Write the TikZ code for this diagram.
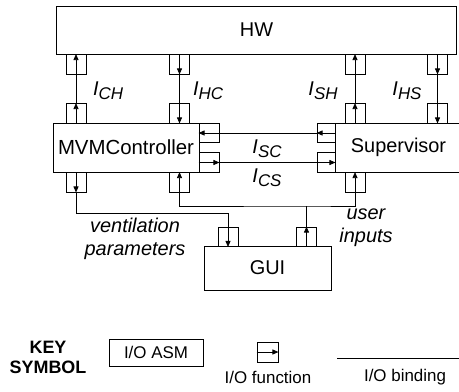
\documentclass[tikz,border=0pt]{standalone}
\usepackage{fontspec}
\setmainfont{Liberation Sans}
\usetikzlibrary{arrows.meta}
\newcommand\ilbl[1]{\textit{I}\raisebox{-4bp}{\fontsize{17}{17}\selectfont\itshape #1}}
\begin{document}
\begin{tikzpicture}[x=1bp,y=-1bp,line width=0.8bp,
  big/.style={font=\fontsize{20}{23}\selectfont},
  asm/.style={draw,line width=1bp,inner sep=0pt,big},
  port/.style={draw,line width=0.9bp,inner sep=0pt,minimum width=20bp,minimum height=19.5bp},
  flow/.style={-{Triangle[length=6bp,width=5bp]}},
  lbl/.style={big,inner sep=0pt},
  keytxt/.style={font=\fontsize{17}{20}\selectfont,inner sep=0pt}]
\useasboundingbox (0,0) rectangle (459,391);
% main boxes
\node[asm,minimum width=399bp,minimum height=48bp] (HW) at (256.5,30) {HW};
\node[asm,minimum width=146bp,minimum height=49bp,text width=146bp,align=center] (MVM) at (126,147.5) {\resizebox{136bp}{!}{MVMController}};
\node[asm,minimum width=127bp,minimum height=49bp] (SUP) at (398.5,147.5) {Supervisor};
\node[asm,minimum width=127bp,minimum height=44bp] (GUI) at (267.5,268) {GUI};
% ports
\node[port] (h1) at (76,64.25) {};
\node[port] (h2) at (179.5,64.25) {};
\node[port] (h3) at (355,64.25) {};
\node[port] (h4) at (437.5,64.25) {};
\node[port] (mt1) at (76,113.25) {};
\node[port] (mt2) at (179.5,113.25) {};
\node[port] (st1) at (355,113.25) {};
\node[port] (st2) at (437.5,113.25) {};
\node[port] (mr1) at (209,133) {};
\node[port] (mr2) at (209,162.5) {};
\node[port,minimum width=18bp] (sl1) at (326,133) {};
\node[port,minimum width=18bp] (sl2) at (326,162.5) {};
\node[port] (mb1) at (76,182.25) {};
\node[port] (mb2) at (179.5,182.25) {};
\node[port] (sb1) at (355,182.25) {};
\node[port] (g1) at (228,236.75) {};
\node[port] (g2) at (306.5,236.75) {};
% port arrows
\draw[flow] (h1.south) -- (h1.north);
\draw[flow] (h2.north) -- (h2.south);
\draw[flow] (h3.south) -- (h3.north);
\draw[flow] (h4.north) -- (h4.south);
\draw[flow] (mt1.south) -- (mt1.north);
\draw[flow] (mt2.north) -- (mt2.south);
\draw[flow] (st1.south) -- (st1.north);
\draw[flow] (st2.north) -- (st2.south);
\draw[flow] (mr1.east) -- (mr1.west);
\draw[flow] (mr2.west) -- (mr2.east);
\draw[flow] (sl1.east) -- (sl1.west);
\draw[flow] (sl2.west) -- (sl2.east);
\draw[flow] (mb1.north) -- (mb1.south);
\draw[flow] (mb2.south) -- (mb2.north);
\draw[flow] (sb1.south) -- (sb1.north);
\draw[flow] (g1.north) -- (g1.south);
\draw[flow] (g2.south) -- (g2.north);
% bindings
\draw (mt1.north) -- (h1.south);
\draw (h2.south) -- (mt2.north);
\draw (st1.north) -- (h3.south);
\draw (h4.south) -- (st2.north);
\draw (sl1.west) -- (mr1.east);
\draw (mr2.east) -- (sl2.west);
\coordinate (vb) at (228,213);
\coordinate (uj) at (306.5,206);
\draw (mb1.south) |- (vb) -- (g1.north);
\draw (g2.north) -- (uj);
\draw (mb2.south) |- (uj) -| (sb1.south);
% labels
\node[lbl] (lch) at (108,91) {\ilbl{CH}};
\node[lbl] (lhc) at (208,91) {\ilbl{HC}};
\node[lbl] (lsh) at (323,91) {\ilbl{SH}};
\node[lbl] (lhs) at (407,91) {\ilbl{HS}};
\node[lbl] (lsc) at (267,149) {\ilbl{SC}};
\node[lbl] (lcs) at (267,178) {\ilbl{CS}};
\node[lbl,align=center,font=\fontsize{20}{23}\selectfont\itshape] (vp) at (135,239) {ventilation\\parameters};
\node[lbl,align=center,font=\fontsize{20}{23}\selectfont\itshape] (ui) at (366,228) {user\\inputs};
% key
\node[keytxt,align=center,font=\fontsize{18}{20}\selectfont\bfseries] (key) at (48,357) {KEY\\SYMBOL};
\node[draw,line width=1bp,minimum width=94bp,minimum height=27bp,inner sep=0pt,font=\fontsize{17}{20}\selectfont] (kasm) at (156,352.5) {I/O ASM};
\node[port,minimum width=21bp,minimum height=20bp] (kf) at (267.5,352) {};
\draw[flow] (kf.west) -- (kf.east);
\node[keytxt] (kft) at (268,377) {I/O function};
\coordinate (kb1) at (337,358);
\coordinate (kb2) at (462,358);
\draw (kb1) -- (kb2);
\node[keytxt] (kbt) at (405,377) {I/O binding};
\end{tikzpicture}
\end{document}
